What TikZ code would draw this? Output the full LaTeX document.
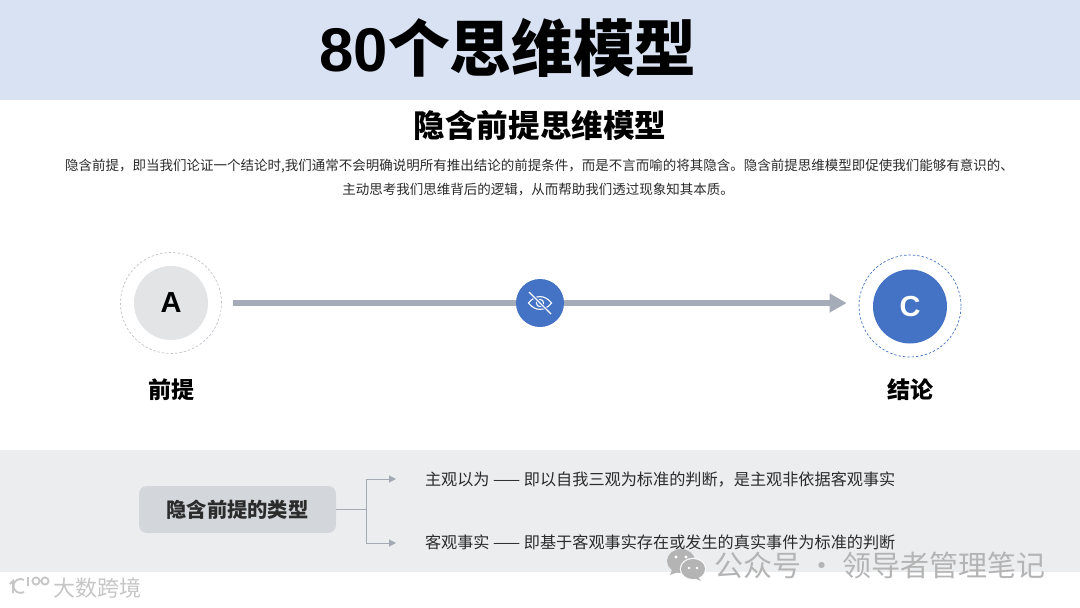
\documentclass[tikz,border=0pt]{standalone}
\usepackage{fontspec}
\setmainfont{Noto Sans CJK SC}
\newfontfamily\latinface{Liberation Sans}
\usetikzlibrary{arrows.meta}
\definecolor{bandtop}{HTML}{D9E2F3}
\definecolor{bandlow}{HTML}{ECEDEF}
\definecolor{boxgray}{HTML}{D3D6DA}
\definecolor{softgray}{HTML}{E2E4E6}
\definecolor{linegray}{HTML}{A5ACB8}
\definecolor{thingray}{HTML}{A3AAB3}
\definecolor{ringgray}{HTML}{BFC3C9}
\definecolor{brandblue}{HTML}{4472C4}
\definecolor{bodytext}{HTML}{2B2B2B}
\definecolor{markgray}{HTML}{B4B4B4}
\definecolor{faintgray}{HTML}{C6C6C6}
\tikzset{
  x=1pt,y=-1pt,
  txt/.style={inner sep=0pt,outer sep=0pt,text=black},
  bigtxt/.style={txt,font=\bfseries\fontsize{23}{27}\selectfont},
  linetxt/.style={txt,anchor=west,text=bodytext,font=\fontsize{16.15}{19}\selectfont},
  paratxt/.style={txt,text=bodytext,font=\fontsize{13.5}{16}\selectfont},
  ring/.style={circle,draw,dashed,dash pattern=on 2.4pt off 2pt,line width=.7pt,minimum size=#1,inner sep=0pt},
  disc/.style={circle,minimum size=74pt,inner sep=0pt,font=\latinface\bfseries\fontsize{29}{30}\selectfont},
  mainline/.style={draw=linegray,line width=5.5pt,-{Triangle[length=17pt,width=18pt]}},
  branch/.style={draw=thingray,line width=1pt},
  brancharrow/.style={branch,-{Triangle[length=7pt,width=7pt]}},
  marktxt/.style={txt,text=markgray,font=\fontsize{29}{34}\selectfont},
}
\begin{document}
\begin{tikzpicture}
\useasboundingbox (0,0) rectangle (1080,608);
\fill[white] (0,0) rectangle (1080,608);
\fill[bandtop] (0,0) rectangle (1080,100);
\fill[bandlow] (0,450) rectangle (1080,572);

\node[txt,font=\bfseries\fontsize{61.7}{70}\selectfont] (title) at (508,48) {{\latinface\bfseries 80}个思维模型};
\node[txt,font=\bfseries\fontsize{31.6}{36}\selectfont] (subtitle) at (540,125) {隐含前提思维模型};
\node[paratxt] (p1) at (539.5,166) {隐含前提，即当我们论证一个结论时,我们通常不会明确说明所有推出结论的前提条件，而是不言而喻的将其隐含。隐含前提思维模型即促使我们能够有意识的、};
\node[paratxt] (p2) at (538,190) {主动思考我们思维背后的逻辑，从而帮助我们透过现象知其本质。};

\node[ring=101pt,draw=ringgray] (ra) at (171,303) {};
\node[disc,fill=softgray] (a) at (171,303) {A};
\node[ring=102pt,draw=brandblue] (rc) at (910,306) {};
\node[disc,fill=brandblue,text=white] (c) at (910,306.5) {C};
\node[bigtxt] (la) at (171,390) {前提};
\node[bigtxt] (lc) at (910,390) {结论};

\coordinate (cin) at (rc.west |- ra.east);
\draw[mainline,shorten <=11pt,shorten >=12pt] (ra.east) -- (cin);

\node[circle,fill=brandblue,minimum size=48pt,inner sep=0pt] (eye) at (540,303) {};
\begin{scope}[shift={(eye.center)},line width=1.1pt]
  \draw[white] (-11.5,0) .. controls (-5,-8.5) and (5,-8.5) .. (11.5,0) .. controls (5,8.5) and (-5,8.5) .. (-11.5,0) -- cycle;
  \draw[white] (0,0) circle (3.6);
  \draw[brandblue,line width=3pt] (-11,-11) -- (11,11);
  \draw[white,line width=1.2pt] (-11,-11) -- (11,11);
\end{scope}

\node[draw=none,fill=boxgray,rounded corners=8pt,minimum width=197pt,minimum height=47pt,inner sep=0pt,font=\bfseries\fontsize{20.3}{24}\selectfont,text=bodytext] (types) at (237.5,509.5) {\raisebox{-1pt}{隐含前提的类型}};
\coordinate (fork) at (types.east -| 366,0);
\coordinate (top) at (396,479);
\coordinate (low) at (396,543);
\draw[branch] (types.east) -- (fork);
\draw[brancharrow] (fork) |- (top);
\draw[brancharrow] (fork) |- (low);

\node[linetxt] (t1) at (425,480) {主观以为 —— 即以自我三观为标准的判断，是主观非依据客观事实};
\node[linetxt] (t2) at (425,542) {客观事实 —— 即基于客观事实存在或发生的真实事件为标准的判断};

% watermarks
\fill[markgray] (681,561) ellipse (14 and 12);
\fill[bandlow!30!white,draw=bandlow!30!white] (693,569) ellipse (13 and 11);
\fill[markgray] (693,569) ellipse (12 and 10);
\fill[markgray] (672,570) -- (670,575) -- (678,572) -- cycle;
\fill[markgray] (698,577) -- (701,581) -- (694,578) -- cycle;
\fill[white] (676,557) circle (1.6) (686,557) circle (1.6) (689,568) circle (1.4) (697,568) circle (1.4);
\node[marktxt,anchor=west] (wm) at (714,565) {公众号 · 领导者管理笔记};

\begin{scope}[line width=1.8pt]
 \draw[faintgray] (13,593) -- (13,581) -- (10,584) (24,592) arc[start angle=60,end angle=300,radius=7];
 \draw[faintgray] (28,586) -- (28,577) (36,581) circle (3.6) (45,581) circle (3.6);
\end{scope}
\node[txt,text=faintgray,font=\fontsize{22}{24}\selectfont,anchor=west] (wb) at (53,588) {大数跨境};
\end{tikzpicture}
\end{document}
